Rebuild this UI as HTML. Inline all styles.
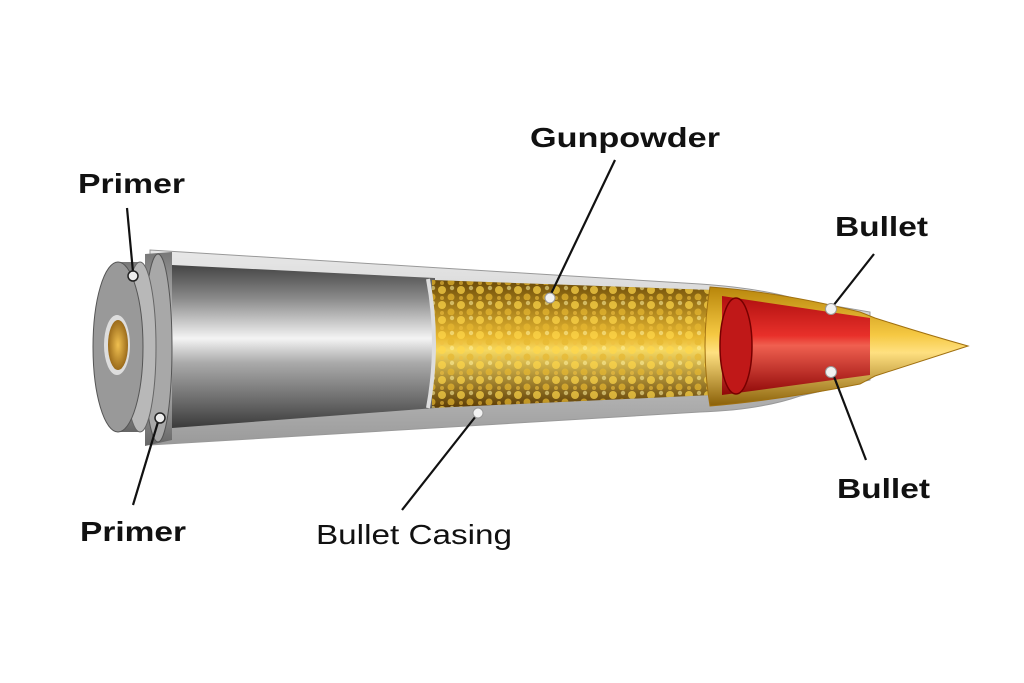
<!DOCTYPE html>
<html><head><meta charset="utf-8"><style>
html,body{margin:0;padding:0;background:#fff;}
svg{display:block}
text{font-family:"Liberation Sans",sans-serif;fill:#111;}
</style></head><body>
<svg width="1024" height="683" viewBox="0 0 1024 683" xmlns="http://www.w3.org/2000/svg">
<defs>
<linearGradient id="steel" x1="0" y1="0" x2="0" y2="1">
<stop offset="0" stop-color="#444"/><stop offset="0.2" stop-color="#888"/><stop offset="0.45" stop-color="#f4f4f4"/><stop offset="0.6" stop-color="#aaa"/><stop offset="0.85" stop-color="#666"/><stop offset="1" stop-color="#3a3a3a"/></linearGradient>
<linearGradient id="shell" x1="0" y1="0" x2="0" y2="1">
<stop offset="0" stop-color="#e8e8e8"/><stop offset="0.5" stop-color="#c8c8c8"/><stop offset="1" stop-color="#9a9a9a"/></linearGradient>
<linearGradient id="rim" x1="0" y1="0" x2="0" y2="1">
<stop offset="0" stop-color="#777"/><stop offset="0.5" stop-color="#d8d8d8"/><stop offset="1" stop-color="#666"/></linearGradient>
<linearGradient id="powder" x1="0" y1="0" x2="0" y2="1">
<stop offset="0" stop-color="#6a4a08"/><stop offset="0.45" stop-color="#e8b830"/><stop offset="0.55" stop-color="#f6d860"/><stop offset="1" stop-color="#5a3a04"/></linearGradient>
<pattern id="grain" width="19" height="15" patternUnits="userSpaceOnUse">
<circle cx="5" cy="5" r="4" fill="#ffd84a" opacity="0.7"/><circle cx="14" cy="12" r="3.5" fill="#e8b830" opacity="0.7"/><circle cx="15" cy="3" r="2.2" fill="#fff1a0" opacity="0.55"/><circle cx="5" cy="13" r="2" fill="#f0c040" opacity="0.6"/></pattern>
<linearGradient id="gold" x1="0" y1="0" x2="0" y2="1">
<stop offset="0" stop-color="#b8860b"/><stop offset="0.4" stop-color="#f5c842"/><stop offset="0.55" stop-color="#ffe080"/><stop offset="1" stop-color="#8a6008"/></linearGradient>
<linearGradient id="red" x1="0" y1="0" x2="0" y2="1">
<stop offset="0" stop-color="#b01010"/><stop offset="0.4" stop-color="#e8302a"/><stop offset="0.5" stop-color="#f06050"/><stop offset="1" stop-color="#900808"/></linearGradient>
<radialGradient id="brass" cx="0.5" cy="0.5" r="0.6"><stop offset="0" stop-color="#f0c050"/><stop offset="1" stop-color="#8a5a10"/></radialGradient>
</defs>
<path d="M150,250 L700,284 Q760,288 800,300 L870,312 L870,380 L800,396 Q760,410 700,412 L150,445 Z" fill="url(#shell)" stroke="#999" stroke-width="1"/>
<path d="M172,265 L435,278 L435,408 L172,428 Z" fill="url(#steel)"/>
<path d="M432,280 L712,290 L712,395 L432,408 Z" fill="url(#powder)"/>
<path d="M432,280 L712,290 L712,395 L432,408 Z" fill="url(#grain)"/>
<path d="M428,279 Q440,343 428,408" stroke="#ddd" stroke-width="4" fill="none"/>
<path d="M710,287 Q780,292 860,312 L875,318 Q925,334 968,346 Q925,360 875,376 L860,384 Q780,400 710,406 Q700,346 710,287 Z" fill="url(#gold)" stroke="#a07010"/>
<path d="M722,296 L870,318 L870,375 L722,395 Z" fill="url(#red)"/>
<ellipse cx="736" cy="346" rx="16" ry="48" fill="#c01818" stroke="#700" stroke-width="1.5"/>
<!-- rim -->
<path d="M145,254 L172,252 L172,440 L145,446 Z" fill="url(#rim)"/>
<ellipse cx="158" cy="348" rx="14" ry="94" fill="#a8a8a8" stroke="#555"/>
<path d="M118,262 L142,262 L142,432 L118,432 Z" fill="url(#rim)"/>
<ellipse cx="140" cy="347" rx="16" ry="85" fill="#b8b8b8" stroke="#666"/>
<ellipse cx="118" cy="347" rx="25" ry="85" fill="#999" stroke="#555"/>
<ellipse cx="117" cy="345" rx="13" ry="30" fill="#ddd"/>
<ellipse cx="118" cy="345" rx="10" ry="25" fill="url(#brass)"/>
<g stroke="#111" stroke-width="2.2" fill="none">
<line x1="127" y1="208" x2="133" y2="272"/>
<line x1="158" y1="422" x2="133" y2="505"/>
<line x1="615" y1="160" x2="550" y2="296"/>
<line x1="476" y1="416" x2="402" y2="510"/>
<line x1="874" y1="254" x2="833" y2="306"/>
<line x1="833" y1="374" x2="866" y2="460"/>
</g>
<g fill="#eee" stroke="#222" stroke-width="1.5">
<circle cx="133" cy="276" r="5"/><circle cx="160" cy="418" r="5"/>
</g>
<g fill="#f2f2f2" stroke="#999" stroke-width="1">
<circle cx="550" cy="298" r="5"/><circle cx="478" cy="413" r="5"/>
<circle cx="831" cy="309" r="5.5"/><circle cx="831" cy="372" r="5.5"/>
</g>
<g font-size="28" font-weight="bold">
<text x="78" y="193" textLength="107" lengthAdjust="spacingAndGlyphs">Primer</text>
<text x="530" y="147" textLength="190" lengthAdjust="spacingAndGlyphs">Gunpowder</text>
<text x="835" y="236" textLength="93" lengthAdjust="spacingAndGlyphs">Bullet</text>
<text x="837" y="498" textLength="93" lengthAdjust="spacingAndGlyphs">Bullet</text>
<text x="80" y="541" textLength="106" lengthAdjust="spacingAndGlyphs">Primer</text>
</g>
<text x="316" y="544" font-size="28" textLength="196" lengthAdjust="spacingAndGlyphs">Bullet Casing</text>
</svg>
</body></html>
